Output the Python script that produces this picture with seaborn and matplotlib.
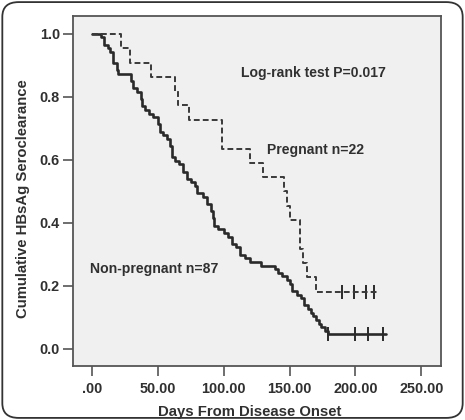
import matplotlib
matplotlib.use('Agg')
import matplotlib.pyplot as plt
import seaborn as sns
import pandas as pd
from matplotlib.patches import FancyBboxPatch

# step points (time in days, cumulative proportion)
preg_days = [0, 22, 29, 45, 63, 65, 74, 99, 120, 130, 146, 148, 150, 158, 160, 163, 170, 217]
preg_surv = [1.0, 0.955, 0.909, 0.864, 0.818, 0.773, 0.727, 0.636, 0.591, 0.545,
             0.5, 0.455, 0.409, 0.318, 0.273, 0.227, 0.182, 0.182]
preg_cens_days = [189.5, 199, 208, 214]
preg_cens_surv = [0.182, 0.182, 0.182, 0.182]

non_days = [0, 7, 9, 12, 14, 16, 19, 20, 30, 31, 34, 37, 38, 40, 43, 46, 50, 52, 54, 57,
            59, 61, 63, 66, 69, 72, 75, 78, 80, 84, 87, 90, 92, 93, 96, 100, 103, 106, 109,
            112, 116, 120, 128, 139, 141, 144, 148, 150, 152, 156, 159, 161, 164, 166, 168,
            170, 172, 174, 177, 179, 223.5]
non_surv = [1.0, 0.989, 0.966, 0.954, 0.943, 0.908, 0.885, 0.874, 0.851, 0.828, 0.816,
            0.793, 0.770, 0.759, 0.747, 0.736, 0.713, 0.690, 0.678, 0.667, 0.644, 0.609,
            0.598, 0.586, 0.563, 0.540, 0.529, 0.517, 0.494, 0.483, 0.460, 0.437, 0.414,
            0.391, 0.379, 0.368, 0.356, 0.333, 0.322, 0.299, 0.287, 0.276, 0.264, 0.253,
            0.241, 0.230, 0.218, 0.207, 0.184, 0.172, 0.161, 0.138, 0.126, 0.115, 0.103,
            0.092, 0.080, 0.069, 0.057, 0.046, 0.046]
non_cens_days = [179.3, 199.5, 209.6, 221]
non_cens_surv = [0.046, 0.046, 0.046, 0.046]

x_ticks = [0, 50, 100, 150, 200, 250]
x_ticklabels = ['.00', '50.00', '100.00', '150.00', '200.00', '250.00']
y_ticks = [0.0, 0.2, 0.4, 0.6, 0.8, 1.0]
y_ticklabels = ['0.0', '0.2', '0.4', '0.6', '0.8', '1.0']

sns.set_style('ticks')
plt.rcParams['font.family'] = ['Liberation Sans', 'DejaVu Sans']

dark = '#303030'
fig = plt.figure(figsize=(4.65, 4.2), dpi=100)
ax = fig.add_axes([0.157, 0.129, 0.791, 0.833])
ax.set_facecolor('#f0f0f0')

preg = pd.DataFrame({'days': preg_days, 'surv': preg_surv})
non = pd.DataFrame({'days': non_days, 'surv': non_surv})

sns.lineplot(data=non, x='days', y='surv', ax=ax, drawstyle='steps-post', estimator=None,
             sort=False, color='#2a2a2a', lw=1.9)
sns.lineplot(data=preg, x='days', y='surv', ax=ax, drawstyle='steps-post', estimator=None,
             sort=False, color='#3a3a3a', lw=1.4, dashes=False, linestyle=(0, (3, 1.6)))
sns.scatterplot(x=non_cens_days, y=non_cens_surv, ax=ax, marker='|', s=90,
                color='#2a2a2a', linewidth=1.4)
sns.scatterplot(x=preg_cens_days, y=preg_cens_surv, ax=ax, marker='|', s=90,
                color='#2a2a2a', linewidth=1.4)

ann = dict(fontsize=10.1, fontweight='bold', color=dark, va='center')
ax.text(113, 0.876, 'Log-rank test P=0.017', **ann)
ax.text(132.5, 0.632, 'Pregnant n=22', **ann)
ax.text(-1.5, 0.253, 'Non-pregnant n=87', **ann)

ax.set_xlim(-14.4, 264.8)
ax.set_ylim(-0.054, 1.057)
ax.set_xticks(x_ticks)
ax.set_xticklabels(x_ticklabels)
ax.set_yticks(y_ticks)
ax.set_yticklabels(y_ticklabels)
ax.tick_params(length=7.5, width=1.2, color='#555555', labelcolor=dark, labelsize=10.4)
ax.tick_params(axis='x', pad=4)
ax.tick_params(axis='y', pad=2)
for lab in ax.get_xticklabels() + ax.get_yticklabels():
    lab.set_fontweight('bold')
for sp in ax.spines.values():
    sp.set_visible(True)
    sp.set_color('#555555')
    sp.set_linewidth(1.3)

ax.set_xlabel('Days From Disease Onset', fontsize=10.7, fontweight='bold', color=dark)
ax.set_ylabel('Cumulative HBsAg Seroclearance', fontsize=10.7, fontweight='bold', color=dark)
ax.xaxis.set_label_coords(0.481, -0.112)
ax.yaxis.set_label_coords(-0.118, 0.477)

frame = FancyBboxPatch((0.005, 0.005), 0.99, 0.99, boxstyle='round,pad=0,rounding_size=0.035',
                       transform=fig.transFigure, fill=False, edgecolor='#333333', lw=1.3)
fig.patches.append(frame)

fig.savefig('out.png', dpi=100)
